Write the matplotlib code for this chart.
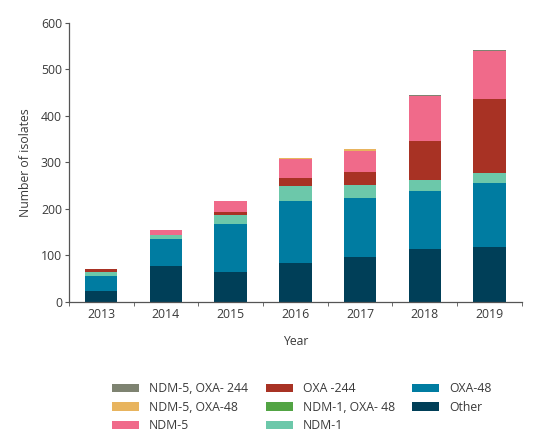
import matplotlib
matplotlib.use("Agg")
import matplotlib.pyplot as plt
import numpy as np

years = ["2013", "2014", "2015", "2016", "2017", "2018", "2019"]

other = [23, 77, 64, 83, 96, 114, 118]
oxa48 = [32, 57, 102, 134, 127, 124, 137]
ndm1 = [9, 9, 21, 31, 28, 24, 21]
ndm1_oxa48 = [0, 0, 0, 0, 0, 0, 0]
oxa244 = [5, 0, 5, 18, 27, 84, 160]
ndm5 = [1, 12, 25, 40, 47, 97, 103]
ndm5_oxa48 = [0, 0, 0, 2, 4, 0, 0]
ndm5_oxa244 = [0, 0, 0, 0, 0, 2, 2]

series = [
    ("Other", other, "#003f58"),
    ("OXA-48", oxa48, "#007ca1"),
    ("NDM-1", ndm1, "#6cc8aa"),
    ("NDM-1, OXA- 48", ndm1_oxa48, "#52a444"),
    ("OXA -244", oxa244, "#a83224"),
    ("NDM-5", ndm5, "#f06a8a"),
    ("NDM-5, OXA-48", ndm5_oxa48, "#e8b45e"),
    ("NDM-5, OXA- 244", ndm5_oxa244, "#7e8371"),
]

plt.rcParams["font.family"] = ["Open Sans", "DejaVu Sans"]
text_color = "#3a3a3a"
spine_color = "#555555"

fig = plt.figure(figsize=(5.38, 4.47), dpi=100)
ax = fig.add_axes([0.128, 0.3255, 0.842, 0.6235])

x = np.arange(len(years))
bottom = np.zeros(len(years))
handles = {}
for name, vals, col in series:
    v = np.array(vals, dtype=float)
    b = ax.bar(x, v, width=0.5, bottom=bottom, color=col, label=name, linewidth=0)
    handles[name] = b
    bottom += v

ax.set_xlim(-0.5, 6.5)
ax.set_ylim(0, 600)
ax.set_yticks(range(0, 601, 100))
ax.set_xticks(x)
ax.set_xticklabels(years)
ax.set_xticks(np.arange(-0.5, 6.6, 1.0), minor=True)
ax.tick_params(axis="x", which="major", length=0, pad=5, labelsize=8.8, colors=text_color)
ax.tick_params(axis="x", which="minor", length=3, direction="out", color=spine_color)
ax.tick_params(axis="y", length=3, labelsize=8.8, colors=text_color, color=spine_color, pad=2)

for s in ["top", "right"]:
    ax.spines[s].set_visible(False)
for s in ["left", "bottom"]:
    ax.spines[s].set_color(spine_color)
    ax.spines[s].set_linewidth(0.9)

ax.set_ylabel("Number of isolates", fontsize=8.8, color=text_color, labelpad=6)
ax.set_xlabel("Year", fontsize=8.8, color=text_color, labelpad=10)

order = ["NDM-5, OXA- 244", "NDM-5, OXA-48", "NDM-5",
         "OXA -244", "NDM-1, OXA- 48", "NDM-1",
         "OXA-48", "Other"]
leg = fig.legend([handles[n] for n in order], order, ncol=3, frameon=False,
                 loc="upper left", bbox_to_anchor=(0.200, 0.156),
                 fontsize=8.8, handlelength=2.2, handleheight=0.7,
                 columnspacing=1.45, labelspacing=0.45, handletextpad=0.8,
                 borderaxespad=0)
for t in leg.get_texts():
    t.set_color(text_color)

fig.savefig("out.png", dpi=100)
